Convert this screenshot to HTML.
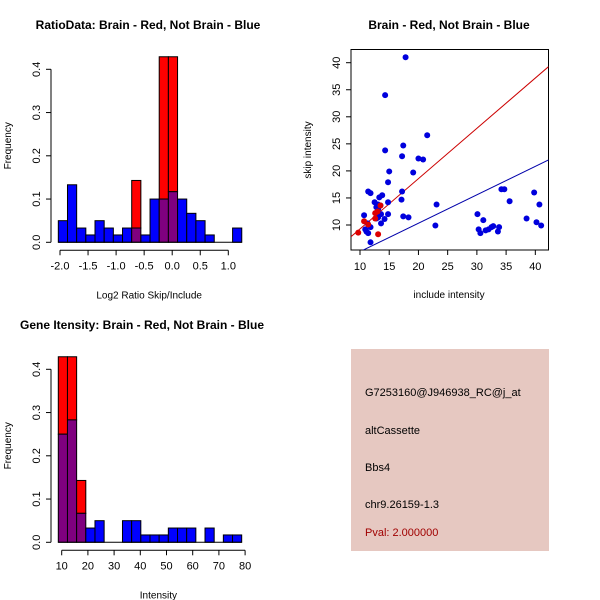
<!DOCTYPE html>
<html><head><meta charset="utf-8"><style>
body{margin:0;background:#fff}
svg{display:block;font-family:"Liberation Sans",sans-serif}
</style></head><body>
<svg id="c" width="600" height="600" viewBox="0 0 600 600">
<g id="p1"></g>
<g id="p2"></g>
<g id="p3"></g>
<g id="p4">
<rect x="351" y="349" width="198" height="202" fill="#e6c8c1"/>
<g font-size="11" fill="#000">
<text x="365" y="396">G7253160@J946938_RC@j_at</text>
<text x="365" y="434">altCassette</text>
<text x="365" y="471">Bbs4</text>
<text x="365" y="508">chr9.26159-1.3</text>
<text x="365" y="536" fill="#a00000">Pval: 2.000000</text>
</g></g>
</svg>
<script>
// Panel 1 data
const ratioStart=-2.03, ratioBin=0.1635;
const ratioBlue=[0.05,0.133,0.033,0.017,0.05,0.033,0.017,0.033,0.033,0.017,0.1,0.1,0.117,0.1,0.067,0.05,0.017,0,0,0.033];
const ratioRed=[0,0,0,0,0,0,0,0,0.143,0,0,0.429,0.429,0,0,0,0,0,0,0];
const ratioTicks=[-2.0,-1.5,-1.0,-0.5,0.0,0.5,1.0];
const ratioTickLabels=["-2.0","-1.5","-1.0","-0.5","0.0","0.5","1.0"];
const freqTicks=[0,0.1,0.2,0.3,0.4];
const freqTickLabels=["0.0","0.1","0.2","0.3","0.4"];
// Panel 3 data
const intStart=8.7, intBin=3.5;
const intBlue=[0.25,0.283,0.067,0.033,0.05,0,0,0.05,0.05,0.017,0.017,0.017,0.033,0.033,0.033,0,0.033,0,0.017,0.017];
const intRed=[0.429,0.429,0.143,0,0,0,0,0,0,0,0,0,0,0,0,0,0,0,0,0];
const intTicks=[10,20,30,40,50,60,70,80];
const intTickLabels=["10","20","30","40","50","60","70","80"];
// Panel 2 data
const blueX=[17.8,14.3,21.5,17.4,14.3,17.2,20.0,20.8,19.1,15.0,14.8,11.4,11.8,17.2,17.1,13.3,13.8,12.5,14.8,13.1,12.8,13.5,13.1,23.1,10.7,14.8,17.4,18.3,13.6,13.6,14.2,12.8,13.1,22.9,11.3,11.8,10.9,11.1,11.4,11.8,30.1,30.3,30.6,31.1,31.5,32.0,32.5,32.8,33.8,33.6,34.2,34.7,35.6,38.5,39.8,40.2,40.7,41.0];
const blueY=[41.0,34.0,26.6,24.7,23.8,22.7,22.3,22.1,19.7,19.9,17.9,16.2,15.9,16.2,14.7,15.1,15.5,14.2,14.2,13.8,13.3,13.6,12.9,13.8,11.8,12.0,11.6,11.4,12.0,10.3,11.1,11.2,11.4,9.9,10.3,9.6,9.2,8.8,8.5,6.8,12.0,9.2,8.5,10.9,9.0,9.2,9.6,9.8,9.6,8.8,16.6,16.6,14.4,11.2,16.0,10.5,13.8,9.9];
const redX=[9.7,10.7,11.4,12.6,13.1,13.5,12.6,13.0];
const redY=[8.6,10.7,10.1,12.2,8.3,13.6,11.2,12.5];
const redLine=[0.93,-0.03]; // slope, intercept
const blueLine=[0.525,-0.17];
const sxTicks=[10,15,20,25,30,35,40];
const syTicks=[10,15,20,25,30,35,40];

const NS="http://www.w3.org/2000/svg";
function mk(p,tag,a){const e=document.createElementNS(NS,tag);for(const k in a)e.setAttribute(k,a[k]);p.appendChild(e);return e;}

function hist(gid,title,tx,ty,start,bw,blue,red,xmap,ymap,x0,xTicks,xLabels,xlab,yTop,yBot){
 const g=document.getElementById(gid);
 const t=mk(g,'text',{x:tx,y:ty,'text-anchor':'middle','font-size':12,'font-weight':'bold'});t.textContent=title;
 
 
 for(let i=0;i<blue.length;i++){
  const a=xmap(start+i*bw),b=xmap(start+(i+1)*bw);
  const bv=blue[i],rv=red[i],lo=Math.min(bv,rv),hi=Math.max(bv,rv);
  if(hi<=0)continue;
  const topCol=rv>bv?'#ff0000':'#0000ff';
  const r=mk(g,'rect',{x:a,y:ymap(hi),width:b-a,height:ymap(lo)-ymap(hi),fill:topCol,stroke:'#000','stroke-width':1});
  
  
  if(lo>0){const o=mk(g,'rect',{x:a,y:ymap(lo),width:b-a,height:ymap(0)-ymap(lo),fill:'#7f007f',stroke:'#000','stroke-width':1});
  
  }
 }
 const base=ymap(0);
 mk(g,'line',{x1:xmap(start),x2:xmap(start+blue.length*bw),y1:base,y2:base,stroke:'#000'});
 // x axis
 const xb=base+8;
 mk(g,'line',{x1:xmap(xTicks[0]),x2:xmap(xTicks[xTicks.length-1]),y1:xb,y2:xb,stroke:'#000'});
 xTicks.forEach((v,i)=>{mk(g,'line',{x1:xmap(v),x2:xmap(v),y1:xb,y2:xb+5,stroke:'#000'});
  const l=mk(g,'text',{x:xmap(v),y:xb+19,'text-anchor':'middle','font-size':11});l.textContent=xLabels[i];
  
  });
 const xl=mk(g,'text',{x:(xmap(xTicks[0])+xmap(xTicks[xTicks.length-1]))/2+5,y:xb+48,'text-anchor':'middle','font-size':10});xl.textContent=xlab;
 
 
 // y axis
 const ya=51;
 mk(g,'line',{x1:ya,x2:ya,y1:ymap(0),y2:ymap(0.4),stroke:'#000'});
 freqTicks.forEach((v,i)=>{mk(g,'line',{x1:ya,x2:ya-5,y1:ymap(v),y2:ymap(v),stroke:'#000'});
  const l=mk(g,'text',{x:0,y:0,'text-anchor':'middle','font-size':11,transform:`translate(${ya-11},${ymap(v)}) rotate(-90)`});l.textContent=freqTickLabels[i];
  
  });
 const yl=mk(g,'text',{x:0,y:0,'text-anchor':'middle','font-size':10,transform:`translate(11,${(ymap(0)+ymap(0.4))/2-10}) rotate(-90)`});yl.textContent='Frequency';
 
 
}
const y1=v=>242.3-v*432.5, y3=v=>542.3-v*432.5;
hist('p1','RatioData: Brain - Red, Not Brain - Blue',148,29,ratioStart,ratioBin,ratioBlue,ratioRed,v=>60+(v+2)*56.1,y1,0,ratioTicks,ratioTickLabels,'Log2 Ratio Skip/Include');
hist('p3','Gene Itensity: Brain - Red, Not Brain - Blue',142,329,intStart,intBin,intBlue,intRed,v=>61.7+(v-10)*2.62,y3,0,intTicks,intTickLabels,'Intensity');

// scatter
(function(){
 const g=document.getElementById('p2');
 const sx=v=>360+(v-10)*5.844, sy=v=>225-(v-10)*5.41;
 const L=351,R=548.5,T=49.5,B=250;
 const t=mk(g,'text',{x:449,y:29,'text-anchor':'middle','font-size':12,'font-weight':'bold'});t.textContent='Brain - Red, Not Brain - Blue';
 
 
 mk(g,'rect',{x:L,y:T,width:R-L,height:B-T,fill:'none',stroke:'#000'});
 const cp=mk(g,'clipPath',{id:'clp'});mk(cp,'rect',{x:L,y:T,width:R-L,height:B-T});
 const inner=mk(g,'g',{'clip-path':'url(#clp)'});
 const xa=(L-360)/5.844+10, xb=(R-360)/5.844+10;
 [[redLine,'#cc0000','red-fit-line'],[blueLine,'#0000aa','blue-fit-line']].forEach(([ln,c,n])=>{
  const l=mk(inner,'line',{x1:sx(xa),y1:sy(ln[0]*xa+ln[1]),x2:sx(xb),y2:sy(ln[0]*xb+ln[1]),stroke:c,'stroke-width':1});
  
  });
 blueX.forEach((x,i)=>{const c=mk(inner,'circle',{cx:sx(x),cy:sy(blueY[i]),r:3,fill:'#0000dd'});
  
  });
 redX.forEach((x,i)=>{const c=mk(inner,'circle',{cx:sx(x),cy:sy(redY[i]),r:3,fill:'#dd0000'});
  
  });
 sxTicks.forEach(v=>{mk(g,'line',{x1:sx(v),x2:sx(v),y1:B,y2:B+5,stroke:'#000'});
  const l=mk(g,'text',{x:sx(v),y:B+20,'text-anchor':'middle','font-size':11});l.textContent=v;
  
  });
 syTicks.forEach(v=>{mk(g,'line',{x1:L,x2:L-5,y1:sy(v),y2:sy(v),stroke:'#000'});
  const l=mk(g,'text',{x:0,y:0,'text-anchor':'middle','font-size':11,transform:`translate(${L-11},${sy(v)}) rotate(-90)`});l.textContent=v;
  
  });
 const xl=mk(g,'text',{x:449,y:298,'text-anchor':'middle','font-size':10});xl.textContent='include intensity';
 
 
 const yl=mk(g,'text',{x:0,y:0,'text-anchor':'middle','font-size':10,transform:'translate(311,150) rotate(-90)'});yl.textContent='skip intensity';
 
 
})();
</script>
</body></html>
